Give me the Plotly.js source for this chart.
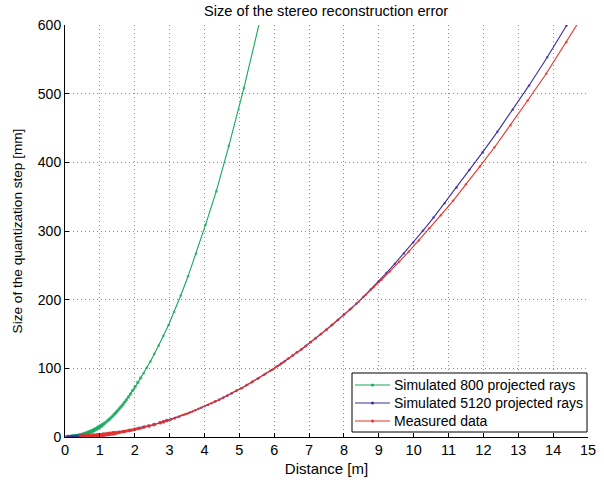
<!DOCTYPE html>
<html>
<head>
<meta charset="utf-8">
<script src="https://cdn.plot.ly/plotly-3.0.1.min.js"></script>
<style>html,body{margin:0;padding:0;background:#fff;}#chart{width:604px;height:482px;}</style>
</head>
<body>
<div id="chart"></div>
<script>
// Simulated 800 projected rays (green)
const greenX = [5.64, 5.13, 4.70, 4.34, 4.03, 3.76, 3.53, 3.32, 3.13, 2.97, 2.82, 2.69, 2.56, 2.45, 2.35, 2.26, 2.17, 2.09, 2.01, 1.94, 1.88, 1.82, 1.76, 1.71, 1.66, 1.61, 1.57, 1.52, 1.48, 1.44, 1.41, 1.36, 1.31, 1.27, 1.23, 1.18, 1.13, 1.08, 1.03, 0.98, 0.94, 0.89, 0.85, 0.81, 0.77, 0.73, 0.70, 0.66, 0.63, 0.59, 0.56, 0.52, 0.49, 0.46, 0.43, 0.40, 0.38, 0.35, 0.32, 0.30, 0.28, 0.26, 0.24, 0.21, 0.19];
const greenY = [617, 508, 424, 358, 309, 267, 234, 206, 182, 163, 147, 133, 121, 110, 101, 93, 86, 79.5, 73, 67.8, 62.5, 58.2, 53.9, 50.5, 47.1, 44.4, 41.7, 39.0, 36.4, 34.5, 32.6, 30.1, 27.6, 25.7, 23.9, 21.8, 19.8, 17.9, 16.0, 14.5, 13.1, 11.8, 10.5, 9.4, 8.4, 7.6, 6.8, 6.1, 5.4, 4.8, 4.2, 3.6, 3.1, 2.7, 2.3, 2.0, 1.8, 1.5, 1.3, 1.1, 1.0, 0.8, 0.7, 0.5, 0.4];

// Simulated 5120 projected rays (blue)
const blueX = [14.98, 14.38, 13.83, 13.31, 12.84, 12.40, 11.98, 11.60, 11.23, 10.89, 10.57, 10.27, 9.99, 9.72, 9.46, 9.22, 8.99, 8.77, 8.56, 8.36, 8.17, 7.99, 7.82, 7.65, 7.49, 7.34, 7.19, 7.05, 6.91, 6.78, 6.66, 6.54, 6.42, 6.31, 6.20, 6.10, 5.90, 5.71, 5.53, 5.36, 5.20, 5.05, 4.91, 4.78, 4.65, 4.53, 4.42, 4.31, 4.10, 3.91, 3.74, 3.58, 3.43, 3.29, 3.16, 3.04, 2.93, 2.83, 2.73, 2.55, 2.40, 2.25, 2.12, 2.00, 1.85, 1.70, 1.55, 1.40, 1.25, 1.10, 0.95, 0.80, 0.65, 0.55, 0.50, 0.44, 0.38, 0.32, 0.26, 0.20, 0.15, 0.10, 0.06];
const blueY = [649, 599, 553, 512, 476.5, 444.4, 414.8, 388.9, 363.2, 340.4, 319.5, 300.6, 283.4, 267.4, 252.4, 238.9, 226.3, 214.6, 204.1, 194.3, 185.6, 177.5, 170.0, 162.7, 156.0, 149.8, 143.7, 138.2, 132.7, 127.8, 123.3, 118.9, 114.6, 110.7, 106.9, 103.4, 96.8, 90.6, 85.0, 79.9, 75.2, 70.9, 67.0, 63.5, 60.1, 57.0, 54.3, 51.6, 46.7, 42.5, 38.9, 35.6, 32.7, 30.1, 27.8, 25.7, 23.9, 22.3, 20.7, 18.1, 16.0, 14.1, 12.5, 11.1, 9.5, 8.0, 6.7, 5.4, 4.3, 3.4, 2.5, 1.8, 1.2, 0.85, 0.7, 0.55, 0.4, 0.3, 0.2, 0.12, 0.1, 0.05, 0.0];

// Measured data (red)
const redX = [15.00, 14.38, 13.80, 13.27, 12.78, 12.32, 11.90, 11.50, 11.13, 10.78, 10.45, 10.15, 9.86, 9.58, 9.32, 9.08, 8.85, 8.63, 8.42, 8.21, 8.02, 7.84, 7.67, 7.50, 7.34, 7.19, 7.04, 6.90, 6.77, 6.64, 6.51, 6.39, 6.27, 6.16, 6.05, 5.95, 5.75, 5.56, 5.39, 5.23, 5.07, 4.93, 4.79, 4.66, 4.54, 4.42, 4.31, 4.20, 4.01, 3.83, 3.66, 3.51, 3.37, 3.25, 3.13, 3.02, 2.91, 2.82, 2.73, 2.56, 2.42, 2.29, 2.18, 2.07, 1.99, 1.92, 1.86, 1.80, 1.74, 1.68, 1.62, 1.57, 1.51, 1.46, 1.40, 1.35, 1.30, 1.25, 1.20, 1.15, 1.10, 1.05, 1.00, 0.95, 0.90, 0.86, 0.81, 0.77, 0.72, 0.68, 0.64, 0.60, 0.56, 0.52, 0.48, 0.45];
const redY = [626, 575, 529, 490, 454, 422, 394, 368, 344, 323, 304, 286, 270, 255, 241, 229, 218, 207, 197, 187, 179, 171, 164, 156, 150, 144, 138, 132, 127, 123, 118, 114, 109, 105, 102, 98, 92, 86, 81, 76, 71, 68, 64, 60, 57, 54, 52, 49, 45, 41, 37, 34, 32, 29, 27, 25, 24, 22, 21, 18, 16, 15, 13, 12, 11, 10, 9.6, 9.0, 8.4, 7.8, 7.3, 6.9, 6.3, 5.9, 5.4, 5.1, 4.7, 4.3, 4.0, 3.7, 3.4, 3.1, 2.8, 2.5, 2.3, 2.1, 1.8, 1.6, 1.4, 1.3, 1.1, 1.0, 0.87, 0.75, 0.64, 0.56];

const names = ['Simulated 800 projected rays', 'Simulated 5120 projected rays', 'Measured data'];
const colors = ['#15a85b', '#3a2d9e', '#e6322b'];
const xTicks = [0,1,2,3,4,5,6,7,8,9,10,11,12,13,14,15];
const yTicks = [0,100,200,300,400,500,600];

const W = 604, H = 482;
const M = {l: 65, r: 16, t: 25, b: 45};
const PW = W - M.l - M.r, PH = H - M.t - M.b;
const px = v => (v - M.l) / PW;          // pixel -> paper x
const py = v => (H - M.b - v) / PH;      // pixel -> paper y

const font = 'Liberation Sans, Arial, Helvetica, sans-serif';
function tr(x, y, name, color, near) {
  const sizes = x.map(v => v < near * 0.5 ? 4.4 : (v < near ? 3.6 : 2.6));
  return {
    x: x, y: y, name: name, type: 'scatter', mode: 'lines+markers',
    line: {color: color, width: 1.1},
    marker: {color: color, size: sizes, symbol: 'circle', line: {width: 0}},
    cliponaxis: true, showlegend: false
  };
}
const data = [
  tr(greenX, greenY, names[0], colors[0], 2.2),
  tr(blueX, blueY, names[1], colors[1], 3.0),
  tr(redX, redY, names[2], colors[2], 3.0)
];

// hand-built legend box (MATLAB style)
const box = {x0: 352, x1: 587, y0: 373, y1: 432};
const rowY = [385, 403, 421];
const shapes = [{
  type: 'rect', xref: 'paper', yref: 'paper',
  x0: px(box.x0), x1: px(box.x1), y0: py(box.y1), y1: py(box.y0),
  fillcolor: '#fff', line: {color: '#000', width: 1}, layer: 'above'
}];
const annotations = [];
names.forEach((n, i) => {
  shapes.push({type: 'line', xref: 'paper', yref: 'paper', layer: 'above',
    x0: px(355), x1: px(390), y0: py(rowY[i]), y1: py(rowY[i]),
    line: {color: colors[i], width: 1.2}});
  shapes.push({type: 'circle', xref: 'paper', yref: 'paper', layer: 'above',
    x0: px(371), x1: px(374), y0: py(rowY[i] + 1.5), y1: py(rowY[i] - 1.5),
    fillcolor: colors[i], line: {color: colors[i], width: 0}});
  annotations.push({xref: 'paper', yref: 'paper', x: px(392), y: py(rowY[i]),
    xanchor: 'left', yanchor: 'middle', showarrow: false, text: n,
    font: {family: font, size: 14, color: '#000'}});
});

const layout = {
  width: W, height: H,
  margin: M,
  paper_bgcolor: '#fff', plot_bgcolor: '#fff',
  font: {family: font, size: 14, color: '#000'},
  title: {text: 'Size of the stereo reconstruction error', font: {family: font, size: 14.6, color: '#000'}, x: 0.54, xanchor: 'center', y: 0.978, yanchor: 'middle'},
  xaxis: {
    range: [0, 15], tickvals: xTicks, ticktext: xTicks.map(String),
    ticks: 'inside', ticklen: 4, tickcolor: '#000',
    showline: true, linecolor: '#000', linewidth: 1, mirror: false,
    showgrid: true, gridcolor: '#8a8a8a', griddash: '1px,3px', gridwidth: 1,
    zeroline: false,
    title: {text: 'Distance [m]', font: {family: font, size: 15}, standoff: 6},
    tickfont: {family: font, size: 14.5}
  },
  yaxis: {
    range: [0, 600], tickvals: yTicks, ticktext: yTicks.map(String),
    ticks: 'inside', ticklen: 4, tickcolor: '#000',
    showline: true, linecolor: '#000', linewidth: 1, mirror: false,
    showgrid: true, gridcolor: '#8a8a8a', griddash: '1px,3px', gridwidth: 1,
    zeroline: false,
    title: {text: 'Size of the quantization step [mm]', font: {family: font, size: 13.6}, standoff: 12},
    tickfont: {family: font, size: 14}
  },
  shapes: shapes,
  annotations: annotations,
  showlegend: false
};
Plotly.newPlot('chart', data, layout, {displayModeBar: false, staticPlot: true});
</script>
</body>
</html>
